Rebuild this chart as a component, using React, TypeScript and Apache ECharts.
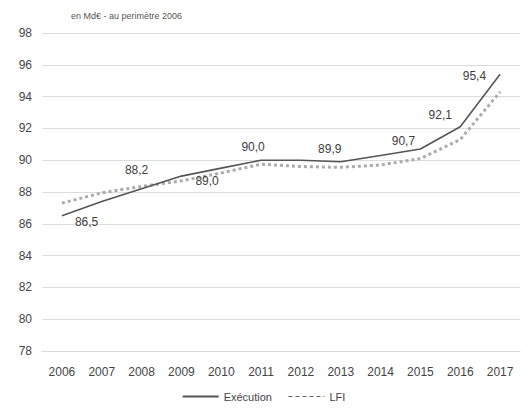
import React, { useEffect, useRef } from "react";
import * as echarts from "echarts";

const years = ["2006", "2007", "2008", "2009", "2010", "2011", "2012", "2013", "2014", "2015", "2016", "2017"];
const execution = [86.5, 87.4, 88.2, 89.0, 89.5, 90.0, 90.0, 89.9, 90.3, 90.7, 92.1, 95.4];
const lfi = [87.3, 87.95, 88.35, 88.7, 89.2, 89.75, 89.6, 89.55, 89.7, 90.1, 91.3, 94.3];
const labelledYears = ["2006", "2008", "2009", "2011", "2013", "2015", "2016", "2017"];
const title = "en Md€ - au perimètre 2006";

const labelPlacement: Record<string, { position: any; offset: number[] }> = {
  "2006": { position: "right", offset: [8, 6] },
  "2008": { position: "top", offset: [-5, -8] },
  "2009": { position: "right", offset: [9, 5] },
  "2011": { position: "top", offset: [-8, -2] },
  "2013": { position: "top", offset: [-11, -2] },
  "2015": { position: "top", offset: [-17, 3] },
  "2016": { position: "top", offset: [-20, -1] },
  "2017": { position: "left", offset: [-9, 2] },
};

export default function App() {
  const ref = useRef<HTMLDivElement>(null);
  useEffect(() => {
    const chart = echarts.init(ref.current!, null, { renderer: "svg" });
    const execData = execution.map((v, i) => {
      const y = years[i];
      if (!labelledYears.includes(y)) return v;
      const p = labelPlacement[y];
      return {
        value: v,
        label: {
          show: true,
          position: p.position,
          offset: p.offset,
          formatter: (prm: any) => prm.value.toFixed(1).replace(".", ","),
        },
      };
    });
    chart.setOption({
      animation: false,
      textStyle: { fontFamily: "Liberation Sans, Arial, sans-serif" },
      title: {
        text: title,
        left: 66,
        top: 6,
        textStyle: { fontSize: 9, fontWeight: "normal", color: "#555" },
      },
      grid: { left: 42, right: 7, top: 33, bottom: 63, containLabel: false },
      legend: {
        bottom: 7,
        left: "center",
        itemWidth: 36,
        itemHeight: 8,
        itemGap: 16,
        itemStyle: { opacity: 0 },
        textStyle: { fontSize: 11, color: "#444" },
        data: [
          { name: "Exécution" },
          { name: "LFI", lineStyle: { type: [4, 3], width: 1, color: "#666" } },
        ],
      },
      xAxis: {
        type: "category",
        data: years,
        boundaryGap: true,
        axisLine: { show: true, lineStyle: { color: "#d9d9d9" } },
        axisTick: { show: false },
        axisLabel: { color: "#444", fontSize: 12, margin: 15 },
      },
      yAxis: {
        type: "value",
        min: 78,
        max: 98,
        interval: 2,
        axisLine: { show: false },
        axisTick: { show: false },
        splitLine: { lineStyle: { color: "#dcdcdc", width: 1 } },
        axisLabel: { color: "#444", fontSize: 12, margin: 10 },
      },
      series: [
        {
          name: "LFI",
          type: "line",
          data: lfi,
          symbol: "none",
          lineStyle: { color: "#ababab", width: 3, type: [3, 3] },
          itemStyle: { color: "#ababab" },
          z: 2,
        },
        {
          name: "Exécution",
          type: "line",
          data: execData,
          symbol: "circle",
          symbolSize: 0,
          showSymbol: true,
          lineStyle: { color: "#555555", width: 1.6 },
          itemStyle: { color: "#555555" },
          label: { color: "#404040", fontSize: 12 },
          z: 3,
        },
      ],
    });
    return () => chart.dispose();
  }, []);
  return (
    <div
      ref={ref}
      style={{ position: "fixed", left: 0, top: 0, width: 527, height: 414, background: "#fff" }}
    />
  );
}
